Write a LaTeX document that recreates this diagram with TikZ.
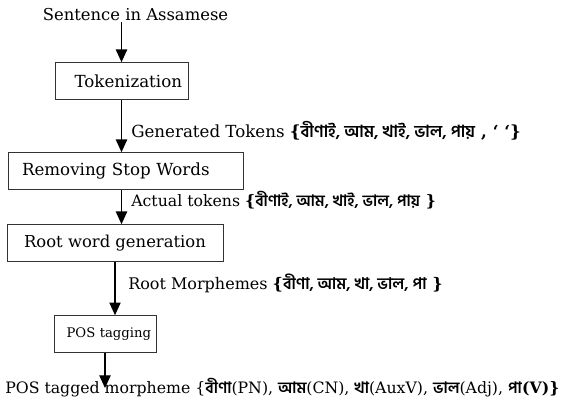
\documentclass[tikz,border=0pt]{standalone}
\usepackage{fontspec}
\setmainfont{DejaVu Serif}
\newfontfamily\bnfont[Script=Bengali]{Hind Siliguri}
\usetikzlibrary{arrows.meta}
\newcommand{\bn}[1]{{\bnfont\bfseries #1}}
\newcommand{\fs}[1]{\fontsize{#1}{1.2\dimexpr#1\relax}\selectfont}

\begin{document}
\begin{tikzpicture}[x=0.75pt,y=0.75pt,yscale=-1,xscale=1,
  font=\fs{12pt},
  stage/.style={draw=black!80, line width=0.75pt, inner ysep=0pt, minimum height=27.5pt},
  flow/.style={line width=0.9pt, -{Triangle[length=9.5pt,width=8.5pt]}}]
%set diagram left start at 0, and has height of 406
\useasboundingbox (0,0) rectangle (568,406);

% Text Node
\node (sent) at (135.5,15) [inner sep=0.75pt, font=\fs{12.3pt}] {Sentence in Assamese};

%Shape: Rectangle [tok]
\node (tok) at (121.5,81) [stage, inner xsep=4.5pt, text width=90.75pt, align=right, font=\fs{12.5pt}] {Tokenization};
%Shape: Rectangle [stop]
\node (stop) at (125.5,171) [stage, inner xsep=10.5pt, text width=155.25pt, align=left, font=\fs{12.5pt}] {Removing Stop Words};
%Shape: Rectangle [root]
\node (root) at (115,243) [stage, inner xsep=0pt, minimum width=162pt, font=\fs{12.3pt}] {Root word generation};
%Shape: Rectangle [pos]
\node (pos) at (105,334) [stage, inner xsep=3.75pt, text width=69pt, align=right, font=\fs{9.9pt}] {POS tagging};

% Text Node
\node (gen) at (130,131) [anchor=west, inner sep=0.75pt, font=\fs{12.5pt}] {Generated Tokens \textbf{\{}\bn{বীণাই, আম, খাই, ভাল, পায়}\textbf{ , ‘ ‘\}}};
% Text Node
\node (act) at (130,200) [anchor=west, inner sep=0.75pt, font=\fs{11.8pt}] {Actual tokens \textbf{\{}\bn{বীণাই, আম, খাই, ভাল, পায়}\textbf{ \}}};
% Text Node
\node (morph) at (127,283) [anchor=west, inner sep=0.75pt] {Root Morphemes \textbf{\{}\bn{বীণা, আম, খা, ভাল, পা}\textbf{ \}}};
% Text Node
\node (tagged) at (4,388) [anchor=west, inner sep=0.75pt, font=\fs{11.8pt}] {POS tagged morpheme \{\bn{বীণা}(PN), \bn{আম}(CN), \bn{খা}(AuxV), \bn{ভাল}(Adj), \bn{পা}\textbf{(V)\}}};
\coordinate (tip) at (105,388);

% Arrows
\draw [flow] (sent.south -| tok.north) -- (tok.north);
\draw [flow] (tok.south) -- (tok.south |- stop.north);
\draw [flow] (stop.south -| tok.south) -- (root.north -| tok.south);
\draw [flow] (root.south) -- (root.south |- pos.north);
\draw [flow] (pos.south) -- (tip);

\end{tikzpicture}
\end{document}
